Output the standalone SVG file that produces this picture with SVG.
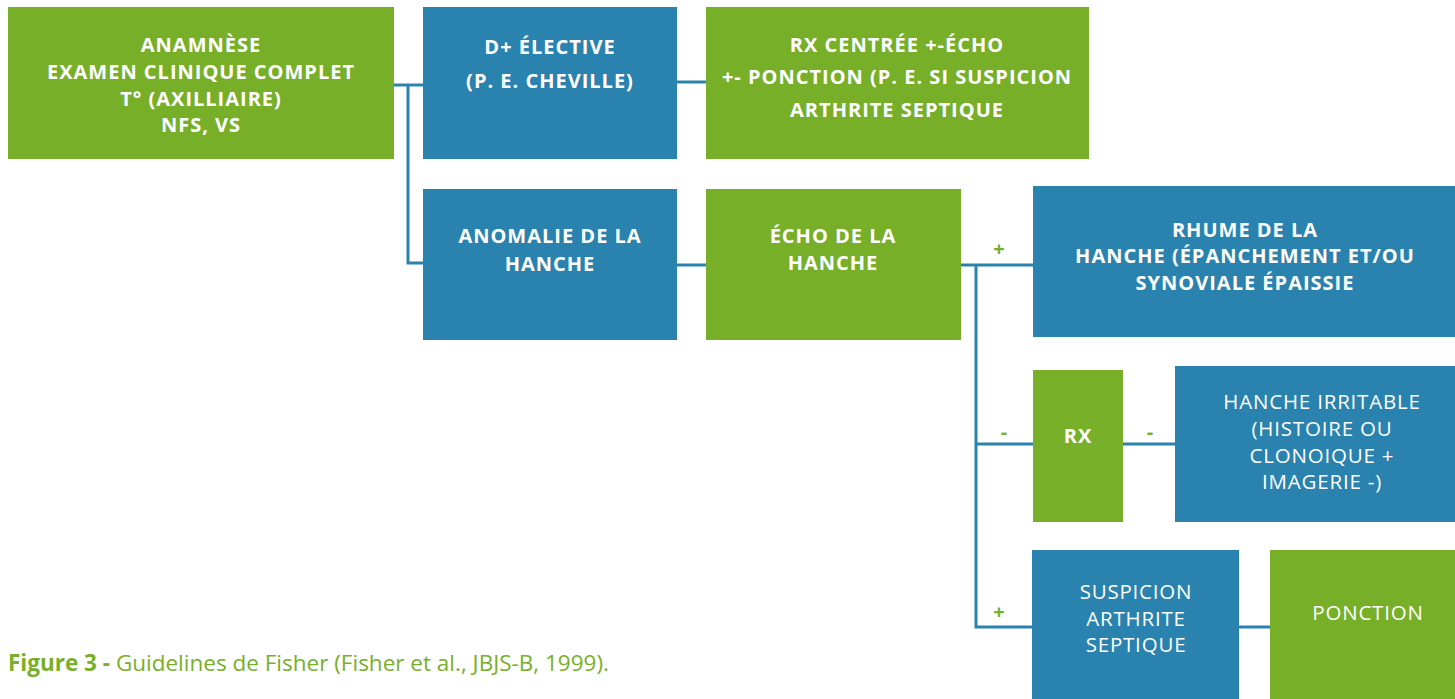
<svg xmlns="http://www.w3.org/2000/svg" width="1455" height="699" viewBox="0 0 1455 699">
<style>
.g{fill:#77AF29}
.b{fill:#2A83AE}
.t{font-family:"Open Sans","Liberation Sans",sans-serif;font-size:20px;font-weight:700;fill:#fff;text-anchor:middle;letter-spacing:1px}
.r{font-family:"Open Sans","Liberation Sans",sans-serif;font-size:20.5px;font-weight:400;fill:#fff;text-anchor:middle;letter-spacing:0.8px}
.l{font-family:"Open Sans","Liberation Sans",sans-serif;font-size:20px;font-weight:700;fill:#77AF29;text-anchor:middle}
.c{stroke:#2A83AE;stroke-width:3;fill:none}
.cap{font-family:"Open Sans","Liberation Sans",sans-serif;font-size:22.5px;fill:#77AF29}
</style>
<rect width="1455" height="699" fill="#fff"/>
<g id="connectors">
<path class="c" d="M394 85H423M408 85V263H423"/>
<path class="c" d="M677 82H706"/>
<path class="c" d="M677 265H706"/>
<path class="c" d="M961 265H1033M976 265V627H1032"/>
<path class="c" d="M976 444H1033M1123 444H1175"/>
<path class="c" d="M1239 627H1270"/>
<text class="l" x="999" y="256">+</text>
<text class="l" x="1004" y="439">-</text>
<text class="l" x="1150" y="439">-</text>
<text class="l" x="999" y="619">+</text>
</g>
<g id="n1"><rect class="g" x="8" y="7" width="386" height="152"/>
<text class="t" x="201" y="52">ANAMNÈSE</text>
<text class="t" x="201" y="79">EXAMEN CLINIQUE COMPLET</text>
<text class="t" x="201" y="106">T° (AXILLIAIRE)</text>
<text class="t" x="201" y="132">NFS, VS</text></g>
<g id="n2"><rect class="b" x="423" y="7" width="254" height="152"/>
<text class="t" x="550" y="54">D+ ÉLECTIVE</text>
<text class="t" x="550" y="88">(P. E. CHEVILLE)</text></g>
<g id="n3"><rect class="g" x="706" y="7" width="383" height="152"/>
<text class="t" x="897" y="52">RX CENTRÉE +-ÉCHO</text>
<text class="t" x="897" y="84">+- PONCTION (P. E. SI SUSPICION</text>
<text class="t" x="897" y="117">ARTHRITE SEPTIQUE</text></g>
<g id="n4"><rect class="b" x="423" y="189" width="254" height="151"/>
<text class="t" x="550" y="243">ANOMALIE DE LA</text>
<text class="t" x="550" y="271">HANCHE</text></g>
<g id="n5"><rect class="g" x="706" y="189" width="255" height="151"/>
<text class="t" x="833" y="243">ÉCHO DE LA</text>
<text class="t" x="833" y="270">HANCHE</text></g>
<g id="n6"><rect class="b" x="1033" y="186" width="422" height="151"/>
<text class="t" x="1245" y="237">RHUME DE LA</text>
<text class="t" x="1245" y="263">HANCHE (ÉPANCHEMENT ET/OU</text>
<text class="t" x="1245" y="290">SYNOVIALE ÉPAISSIE</text></g>
<g id="n7"><rect class="g" x="1033" y="370" width="90" height="152"/>
<text class="t" x="1078" y="443">RX</text></g>
<g id="n8"><rect class="b" x="1175" y="366" width="280" height="156"/>
<text class="r" x="1322" y="409">HANCHE IRRITABLE</text>
<text class="r" x="1322" y="436">(HISTOIRE OU</text>
<text class="r" x="1322" y="463">CLONOIQUE +</text>
<text class="r" x="1322" y="489">IMAGERIE -)</text></g>
<g id="n9"><rect class="b" x="1032" y="550" width="207" height="149"/>
<text class="r" x="1136" y="599">SUSPICION</text>
<text class="r" x="1136" y="626">ARTHRITE</text>
<text class="r" x="1136" y="652">SEPTIQUE</text></g>
<g id="n10"><rect class="g" x="1270" y="550" width="185" height="149"/>
<text class="r" x="1368" y="620">PONCTION</text></g>
<text class="cap" x="8" y="671"><tspan font-weight="700">Figure 3 -</tspan> Guidelines de Fisher (Fisher et al., JBJS-B, 1999).</text>
</svg>
